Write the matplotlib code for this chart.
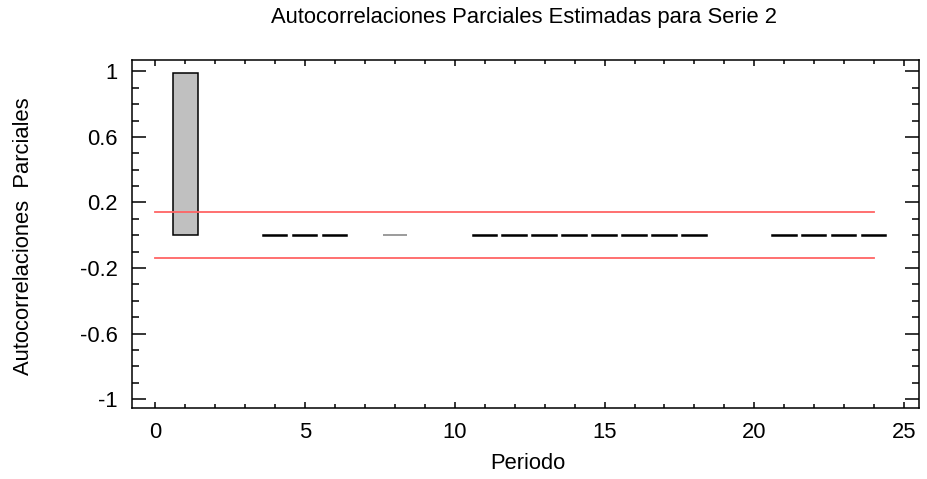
import numpy as np
import matplotlib
matplotlib.use("Agg")
import matplotlib.pyplot as plt
from matplotlib.ticker import MultipleLocator, FixedLocator

plt.rcParams['font.family'] = ['Liberation Sans', 'DejaVu Sans']

# partial autocorrelations by lag (nan = not drawn)
lags = list(range(1, 25))
pacf = [0.99, np.nan, np.nan, -0.002, -0.002, -0.002, np.nan, 0.004,
        np.nan, np.nan, -0.002, -0.002, -0.002, -0.002, -0.002, -0.002,
        -0.002, -0.002, np.nan, np.nan, -0.002, -0.002, -0.002, -0.002]
limit = 0.139
limit_span = [0, 24]

title = "Autocorrelaciones Parciales Estimadas para Serie 2"
xlabel = "Periodo"
ylabel = "Autocorrelaciones  Parciales"
ytick_vals = [-1, -0.6, -0.2, 0.2, 0.6, 1]
ytick_labels = ['-1', '-0.6', '-0.2', '0.2', '0.6', '1']

fs = 15.8

fig = plt.figure(figsize=(9.27, 4.79), dpi=100)
ax = fig.add_axes([0.1424, 0.1482, 0.849, 0.7265])

heights = np.array(pacf)
shown = ~np.isnan(heights)
xs = np.array(lags)[shown]
hs = heights[shown]
edges = ['#808080' if 0 < h < 0.01 else 'black' for h in hs]
ax.bar(xs, hs, width=0.82, color='#c0c0c0', edgecolor=edges, linewidth=1.1)

# significance limits
ax.plot(limit_span, [limit, limit], color='#ff6464', lw=1.3)
ax.plot(limit_span, [-limit, -limit], color='#ff6464', lw=1.3)

ax.set_xlim(-0.78, 25.5)
ax.set_ylim(-1.055, 1.07)
ax.xaxis.set_major_locator(MultipleLocator(5))
ax.xaxis.set_minor_locator(MultipleLocator(1))
ax.yaxis.set_major_locator(FixedLocator(ytick_vals))
ax.yaxis.set_minor_locator(MultipleLocator(0.1))
ax.set_yticklabels(ytick_labels)

ax.tick_params(axis='both', which='both', direction='in', top=True, right=True,
               labelsize=fs, colors='black', width=1.1)
ax.tick_params(axis='y', which='major', length=10, pad=10)
ax.tick_params(axis='y', which='minor', length=5)
ax.tick_params(axis='x', which='major', length=4, pad=10)
ax.tick_params(axis='x', which='minor', length=3)
for s in ax.spines.values():
    s.set_linewidth(1.1)

fig.text(0.5696, 0.0334, xlabel, fontsize=fs, ha='center', va='center')
fig.text(0.0250, 0.507, ylabel, fontsize=fs, rotation=90, ha='center', va='center')
fig.text(0.5653, 0.9645, title, fontsize=fs, ha='center', va='center')

fig.savefig("out.png", dpi=100)
